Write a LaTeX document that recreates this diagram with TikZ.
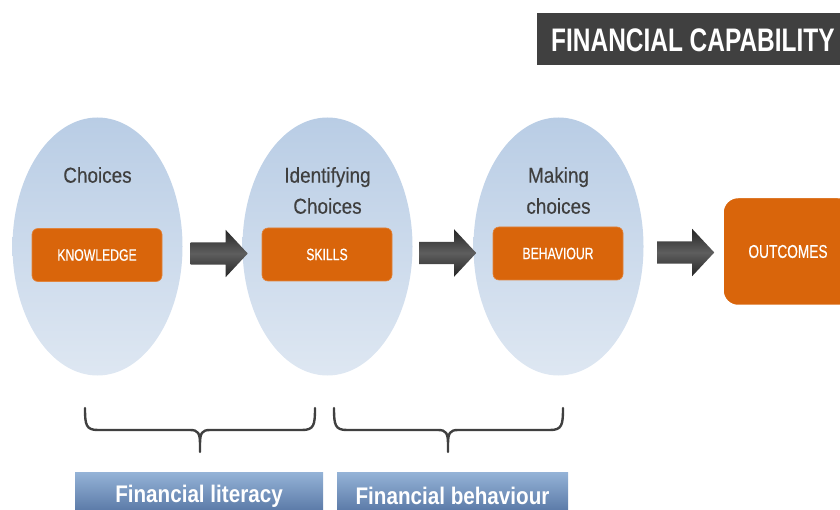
\documentclass[tikz,border=0pt]{standalone}
\usepackage{fontspec}
\setmainfont{Liberation Sans}
% condensed cuts of the same face: capitals are set narrower than mixed case
\newfontfamily\capsfont[FakeStretch=0.75]{Liberation Sans}
\newfontfamily\capsmedium[FakeStretch=0.74,FakeBold=0.5]{Liberation Sans}
\newfontfamily\lowfont[FakeStretch=0.88,FakeBold=0.4]{Liberation Sans}
\newfontfamily\bandfont[FakeStretch=0.86]{Liberation Sans}
\usetikzlibrary{shapes.geometric,shapes.arrows}

\definecolor{bubbletop}{HTML}{B9CDE5}
\definecolor{bubblebot}{HTML}{DEE7F2}
\definecolor{stageorange}{HTML}{D9650B}
\definecolor{titlegrey}{HTML}{404040}
\definecolor{textgrey}{HTML}{3F3F3F}
\definecolor{bandtop}{HTML}{95B3D7}
\definecolor{bandbot}{HTML}{4A6A9A}
\definecolor{arrowedge}{HTML}{262626}
\definecolor{arrowmid}{HTML}{5E5E5E}

\begin{document}
\begin{tikzpicture}[x=1pt,y=-1pt,
  bubble/.style={ellipse, draw=none, inner sep=0pt,
    minimum width=170pt, minimum height=258pt,
    top color=bubbletop, bottom color=bubblebot},
  stagebox/.style={rectangle, rounded corners=6pt, fill=stageorange,
    draw=stageorange!80!white, line width=0.6pt,
    minimum width=130pt, minimum height=53pt, inner sep=0pt,
    text=white, font=\capsmedium\fontsize{16.5}{18}\selectfont},
  flowarrow/.style={single arrow, draw=none, inner xsep=0pt, inner ysep=11pt,
    minimum height=57pt, single arrow head extend=12.5pt,
    single arrow tip angle=94,
    top color=arrowedge, bottom color=arrowedge, middle color=arrowmid},
  caption/.style={align=center, text=textgrey,
    font=\lowfont\fontsize{21.5}{31}\selectfont},
  bracket/.style={draw=titlegrey, line width=2.4pt, line cap=round, line join=round},
  band/.style={rectangle, inner sep=0pt, top color=bandtop, bottom color=bandbot},
  bandtext/.style={text=white, font=\bandfont\bfseries\fontsize{24}{26}\selectfont}
]
\useasboundingbox (0,0) rectangle (840,510);
\clip (0,0) rectangle (840,510);

% title banner
\fill[titlegrey] (537,13) rectangle (850,65);
\node[anchor=west, text=white, inner sep=0pt,
  font=\capsfont\bfseries\fontsize{32.6}{34}\selectfont] (title) at (551,40) {FINANCIAL CAPABILITY};

% three stages
\node[bubble] (b1) at (97.5,246.5) {};
\node[bubble] (b2) at (327.5,246.5) {};
\node[bubble] (b3) at (558.5,246.5) {};

\node[caption] (c1) at (97.5,175) {Choices};
\node[caption] (c2) at (327.5,190.5) {Identifying\\Choices};
\node[caption] (c3) at (558.5,190.5) {Making\\choices};

\node[stagebox] (k) at (97,255) {KNOWLEDGE};
\node[stagebox] (s) at (327,254.5) {SKILLS};
\node[stagebox] (bh) at (558,253.5) {BEHAVIOUR};

% outcome box
\node[rectangle, rounded corners=15pt, fill=stageorange, draw=white, line width=1.5pt,
  minimum width=130pt, minimum height=108pt, inner sep=0pt, text=white,
  font=\capsmedium\fontsize{18.5}{20}\selectfont] (out) at (788,251.5) {OUTCOMES};

% block arrows between stages (node centre sits on the shaft, tip reaches further)
\node[flowarrow] (a1) at (214,253.5) {};
\node[flowarrow] (a2) at (442.5,253) {};
\node[flowarrow] (a3) at (680.5,252.5) {};

% grouping brackets
\draw[bracket] (85,408) .. controls (85,425) and (86,430) .. (98,430)
  -- (190,430) .. controls (198,430) and (200,433) .. (200,444) -- (200,452)
  (200,444) .. controls (200,433) and (202,430) .. (210,430)
  -- (302,430) .. controls (314,430) and (315,425) .. (315,408);
\draw[bracket] (334,408) .. controls (334,425) and (335,430) .. (347,430)
  -- (438,430) .. controls (446,430) and (448,433) .. (448,444) -- (448,452)
  (448,444) .. controls (448,433) and (450,430) .. (458,430)
  -- (550,430) .. controls (562,430) and (563,425) .. (563,408);

% labels under the brackets
\node[band, minimum width=248pt, minimum height=50pt] (lit) at (199,497) {};
\node[band, minimum width=231pt, minimum height=50pt] (beh) at (452.5,497) {};
\node[bandtext] (littext) at (199,496) {Financial literacy};
\node[bandtext] (behtext) at (452.5,496) {Financial behaviour};
\end{tikzpicture}
\end{document}
